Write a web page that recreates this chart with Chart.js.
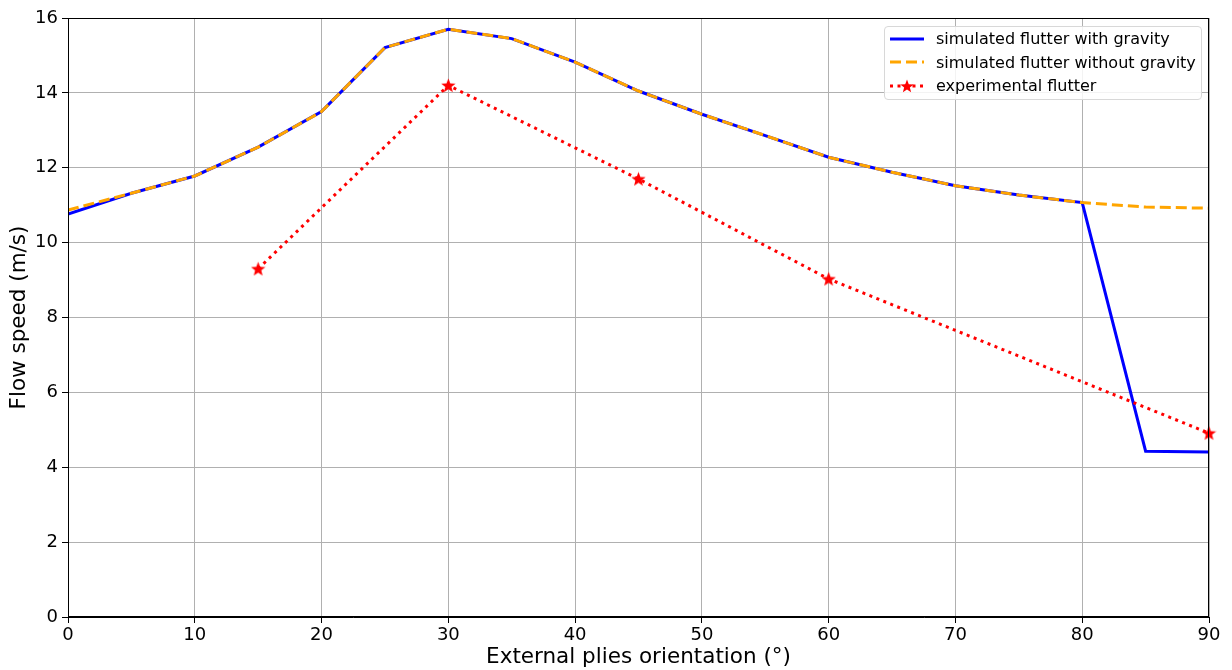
<!DOCTYPE html>
<html>
<head>
<meta charset="utf-8">
<script src="https://cdn.jsdelivr.net/npm/chart.js@4/dist/chart.umd.min.js"></script>
<style>
  html, body { margin: 0; padding: 0; background: #fff; }
  #wrap { position: relative; width: 1232px; height: 670px; }
  #legend {
    position: absolute; left: 884px; top: 26px; width: 318px; height: 74px;
    box-sizing: border-box; border: 1px solid #d8d8d8; border-radius: 4px;
    background: rgba(255,255,255,0.85);
    font-family: "DejaVu Sans", sans-serif; font-size: 16px; color: #000;
    padding-top: 0px;
  }
  .row { display: flex; align-items: center; height: 23.5px; }
  .row svg { margin-left: 4px; margin-right: 11px; }
</style>
</head>
<body>
<div id="wrap">
  <canvas id="chart" width="1232" height="670"></canvas>
  <div id="legend">
    <div class="row">
      <svg width="36" height="10"><line x1="1" y1="5" x2="35" y2="5" stroke="#0000ff" stroke-width="3"/></svg>
      <span>simulated flutter with gravity</span>
    </div>
    <div class="row">
      <svg width="36" height="10"><line x1="1" y1="5" x2="35" y2="5" stroke="#ffa500" stroke-width="3" stroke-dasharray="11 5"/></svg>
      <span>simulated flutter without gravity</span>
    </div>
    <div class="row">
      <svg width="36" height="14"><line x1="1" y1="7" x2="35" y2="7" stroke="#ff0000" stroke-width="3" stroke-dasharray="3 4.5"/>
        <polygon id="legStar" fill="#ff0000"/></svg>
      <span>experimental flutter</span>
    </div>
  </div>
</div>
<script>
// angles of the external plies (deg)
const angles = [0, 5, 10, 15, 20, 25, 30, 35, 40, 45, 50, 55, 60, 65, 70, 75, 80, 85, 90];
const withGravity = [10.76, 11.32, 11.78, 12.55, 13.50, 15.21, 15.70, 15.45, 14.82, 14.05, 13.43, 12.86, 12.28, 11.88, 11.52, 11.27, 11.07, 4.43, 4.41];
const withoutGravity = [10.87, 11.32, 11.78, 12.55, 13.50, 15.21, 15.70, 15.45, 14.82, 14.05, 13.43, 12.86, 12.28, 11.88, 11.52, 11.27, 11.07, 10.95, 10.92];

const expAngles = [15, 30, 45, 60, 90];
const expSpeed = [9.30, 14.20, 11.70, 9.03, 4.91];

const xTicks = [0, 10, 20, 30, 40, 50, 60, 70, 80, 90];
const yTicks = [0, 2, 4, 6, 8, 10, 12, 14, 16];

function starPoints(cx, cy, rOut, rIn) {
    const pts = [];
    for (let i = 0; i < 10; i++) {
        const r = i % 2 === 0 ? rOut : rIn;
        const a = -Math.PI / 2 + i * Math.PI / 5;
        pts.push([cx + r * Math.cos(a), cy + r * Math.sin(a)]);
    }
    return pts;
}

// filled 5-point star like matplotlib '*'
function makeStar(size) {
    const c = document.createElement('canvas');
    c.width = size; c.height = size;
    const ctx = c.getContext('2d');
    const pts = starPoints(size / 2, size / 2 + 0.6, size / 2, size / 4.6);
    ctx.beginPath();
    pts.forEach((p, i) => i ? ctx.lineTo(p[0], p[1]) : ctx.moveTo(p[0], p[1]));
    ctx.closePath();
    ctx.fillStyle = '#ff0000';
    ctx.fill();
    return c;
}
const star = makeStar(15);
document.getElementById('legStar').setAttribute('points',
    starPoints(18, 7.6, 7, 3).map(p => p.join(',')).join(' '));

const frame = {
    id: 'frame',
    afterDatasetsDraw(chart) {
        const a = chart.chartArea;
        const ctx = chart.ctx;
        ctx.save();
        ctx.strokeStyle = '#000';
        ctx.lineWidth = 1;
        ctx.strokeRect(a.left + 0.5, a.top + 0.5, a.right - a.left - 1, a.bottom - a.top - 1);
        ctx.restore();
    }
};

const font = { family: '"DejaVu Sans", sans-serif', size: 18 };
const titleFont = { family: '"DejaVu Sans", sans-serif', size: 21.5 };

new Chart(document.getElementById('chart'), {
    type: 'line',
    data: {
        datasets: [{
            label: 'simulated flutter with gravity',
            data: angles.map((a, i) => ({ x: a, y: withGravity[i] })),
            borderColor: '#0000ff',
            borderWidth: 3,
            pointRadius: 0,
            tension: 0,
            order: 3
        }, {
            label: 'simulated flutter without gravity',
            data: angles.map((a, i) => ({ x: a, y: withoutGravity[i] })),
            borderColor: '#ffa500',
            borderWidth: 3,
            borderDash: [11, 5],
            pointRadius: 0,
            tension: 0,
            order: 2
        }, {
            label: 'experimental flutter',
            data: expAngles.map((a, i) => ({ x: a, y: expSpeed[i] })),
            borderColor: '#ff0000',
            borderWidth: 3,
            borderDash: [3, 4.5],
            pointStyle: star,
            pointRadius: 7,
            tension: 0,
            clip: false,
            order: 1
        }]
    },
    options: {
        responsive: false,
        animation: false,
        events: [],
        layout: { padding: { left: 0, top: 18, right: 23, bottom: 0 } },
        plugins: { legend: { display: false }, tooltip: { enabled: false } },
        scales: {
            x: {
                type: 'linear',
                min: 0, max: 90,
                afterBuildTicks: s => { s.ticks = xTicks.map(v => ({ value: v })); },
                afterFit: s => { s.height = 53; },
                ticks: { color: '#000', font, padding: 2, maxRotation: 0 },
                grid: { color: '#b0b0b0', lineWidth: 1, tickColor: '#000', tickLength: 6 },
                border: { color: '#000', width: 1 },
                title: { display: true, text: 'External plies orientation (°)', color: '#000',
                         font: titleFont, padding: { top: 0, bottom: 0 } }
            },
            y: {
                min: 0, max: 16,
                afterBuildTicks: s => { s.ticks = yTicks.map(v => ({ value: v })); },
                afterFit: s => { s.width = 68; },
                ticks: { color: '#000', font, padding: 4 },
                grid: { color: '#b0b0b0', lineWidth: 1, tickColor: '#000', tickLength: 6 },
                border: { color: '#000', width: 1 },
                title: { display: true, text: 'Flow speed (m/s)', color: '#000',
                         font: titleFont, padding: { top: 7, bottom: 0 } }
            }
        }
    },
    plugins: [frame]
});
</script>
</body>
</html>
